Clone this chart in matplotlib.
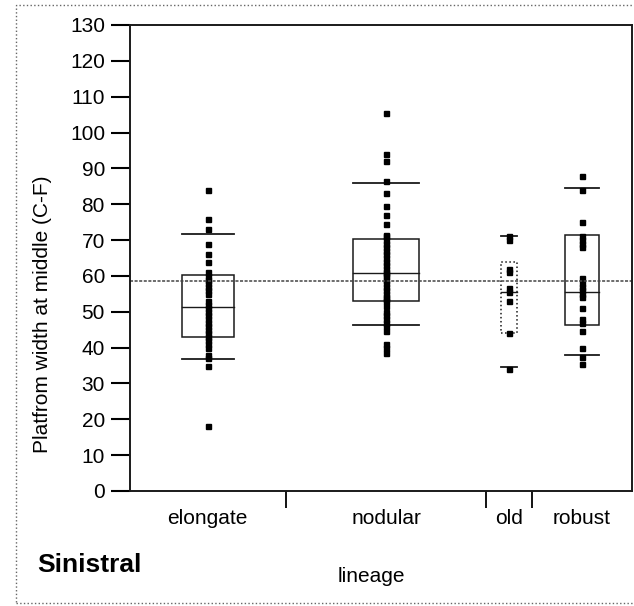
import matplotlib.pyplot as plt
from matplotlib.patches import Rectangle

plt.rcParams["font.family"] = ["Liberation Sans", "DejaVu Sans"]

lineages = ["elongate", "nodular", "old", "robust"]

elongate = [84, 76, 73, 69, 66, 64, 61, 60, 59, 58, 57, 56, 55, 53, 52, 51,
            50, 49, 48, 47, 46, 45, 44, 43, 42, 41, 40, 38, 37, 35, 18]
nodular = [105.5, 94, 92, 86.5, 83, 79.5, 77, 74.5, 71.5, 71, 70, 69, 68, 67,
           66, 65, 64, 63, 62, 61, 60.5, 60, 59, 58, 57, 56, 55, 54, 53.5, 53,
           51.5, 50, 49, 48, 47, 46, 44.5, 41, 40, 38.5]
old = [71, 70, 62, 61, 56.5, 55.5, 53, 44, 34]
robust = [88, 84, 75, 71, 70, 69, 68, 59.5, 58, 57, 56, 55, 54, 51, 48, 47,
          44.5, 40, 37.5, 35.5]
values = [elongate, nodular, old, robust]

# quantile box summaries: 10%, 25%, median, 75%, 90%
q10 = [36.7, 46.3, 34.7, 37.9]
q25 = [43.0, 53.1, 44.0, 46.3]
median = [51.4, 60.7, 55.6, 55.5]
q75 = [60.2, 70.4, 64.0, 71.4]
q90 = [71.6, 86.0, 71.0, 84.6]
grand_mean = 58.5

fig = plt.figure(figsize=(6.34, 6.06), dpi=100)
ax = fig.add_axes([130 / 634, 115 / 606, 502 / 634, 466 / 606])

# group widths are proportional to group size
sizes = [len(v) for v in values]
edges = [0]
for n in sizes:
    edges.append(edges[-1] + n)
centers = [(edges[i] + edges[i + 1]) / 2 for i in range(len(sizes))]

ink = "#1a1a1a"
for i, vals in enumerate(values):
    c = centers[i]
    half = sizes[i] / 6
    ax.add_patch(Rectangle((c - half, q25[i]), 2 * half, q75[i] - q25[i],
                           fill=False, ec=ink, lw=1.1,
                           ls=":" if lineages[i] == "old" else "-"))
    ax.plot([c - half, c + half], [median[i]] * 2, color=ink, lw=1.0)
    ax.plot([c - half, c + half], [q10[i]] * 2, color=ink, lw=1.3)
    ax.plot([c - half, c + half], [q90[i]] * 2, color=ink, lw=1.3)
    ax.plot([c] * len(vals), vals, ls="none", marker="s", ms=3.6,
            color="black")

ax.axhline(grand_mean, color="#444444", lw=1.1, ls=(0, (2, 1)))

ax.set_xlim(0, edges[-1])
ax.set_ylim(0, 130)
ax.set_yticks(range(0, 131, 10))
ax.set_xticks(edges[1:-1])
ax.set_xticklabels([])
ax.set_xticks(centers, minor=True)
ax.set_xticklabels(lineages, minor=True)
ax.tick_params(axis="y", direction="out", length=14, width=1.5,
               labelsize=15, pad=4)
ax.tick_params(axis="x", which="major", direction="out", length=12, width=1.3)
ax.tick_params(axis="x", which="minor", length=0, labelsize=15, pad=13)
for s in ax.spines.values():
    s.set_linewidth(1.4)
    s.set_color(ink)

fig.text(43 / 634, 1 - 314 / 606, "Platfrom width at middle (C-F)",
         rotation=90, ha="center", va="center", fontsize=15)
fig.text(371 / 634, 1 - 577 / 606, "lineage", ha="center", va="center",
         fontsize=15)
fig.text(37 / 634, 1 - 565 / 606, "Sinistral", ha="left", va="center",
         fontsize=19, fontweight="bold")

fig.add_artist(Rectangle((16 / 634, 3 / 606), 700 / 634, 598 / 606,
                         transform=fig.transFigure, fill=False,
                         ec="#666666", lw=1.0, ls=":"))

fig.savefig("out.png", dpi=100)
